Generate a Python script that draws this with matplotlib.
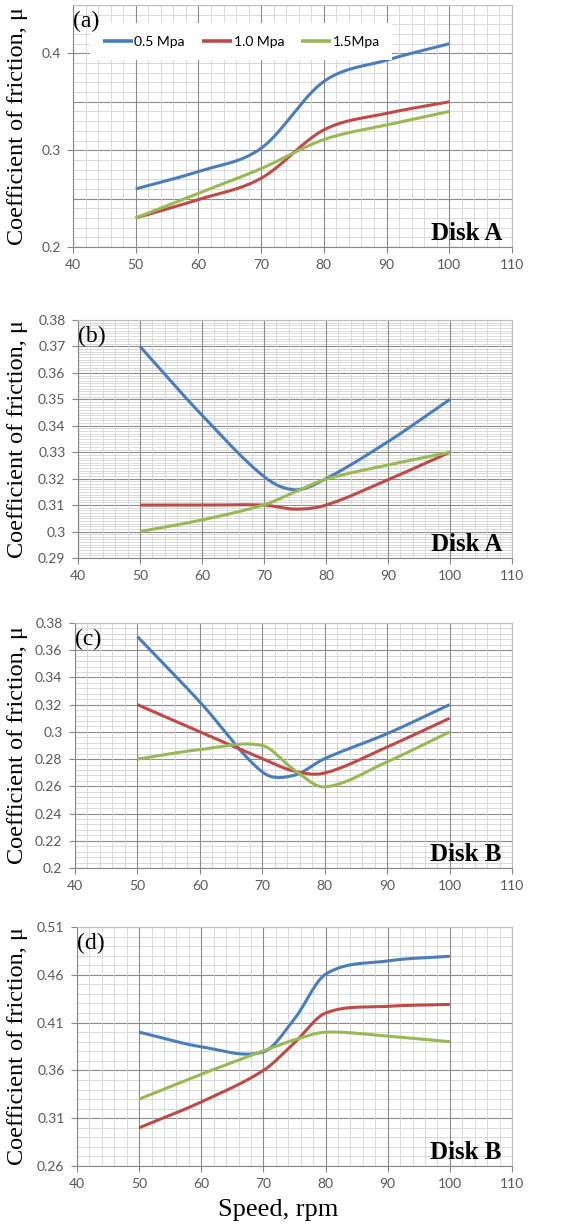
import numpy as np
import matplotlib
matplotlib.use('Agg')
import matplotlib.pyplot as plt
from matplotlib.ticker import MultipleLocator, FixedLocator

# speed (rpm) and friction coefficient
speed_a = [50, 60, 70, 80, 90, 100]
a_05 = [0.260, 0.278, 0.302, 0.371, 0.393, 0.410]
a_10 = [0.230, 0.249, 0.271, 0.321, 0.338, 0.350]
a_15 = [0.230, 0.2555, 0.281, 0.311, 0.326, 0.340]

speed_b = [50, 60, 70, 75, 80, 90, 100]
b_05 = [0.370, 0.344, 0.3208, 0.3158, 0.320, 0.334, 0.350]
b_10 = [0.310, 0.310, 0.310, 0.3085, 0.310, 0.3196, 0.330]
b_15 = [0.300, 0.3044, 0.3101, 0.315, 0.3198, 0.3252, 0.330]

speed_c = [50, 60, 70, 75, 80, 90, 100]
c_05 = [0.370, 0.322, 0.2706, 0.268, 0.2804, 0.2987, 0.320]
c_10 = [0.320, 0.300, 0.2804, 0.2713, 0.2698, 0.2889, 0.310]
c_15 = [0.280, 0.287, 0.290, 0.2725, 0.2596, 0.278, 0.300]

speed_d = [50, 60, 70, 75, 80, 90, 100]
d_05 = [0.400, 0.3847, 0.3794, 0.414, 0.4606, 0.4745, 0.4794]
d_10 = [0.300, 0.327, 0.360, 0.389, 0.420, 0.427, 0.429]
d_15 = [0.330, 0.356, 0.3805, 0.392, 0.400, 0.3958, 0.390]

labels = ['0.5 Mpa', '1.0 Mpa', '1.5Mpa']
colors = ['#4a7ebb', '#be4b48', '#98b954']

panels = [
    # tag, disk, x, series, ylim, major, minor, label step, axes box (px: left, top, bottom)
    ('(a)', 'Disk A', speed_a, [a_05, a_10, a_15], (0.2, 0.45), 0.05, 0.01, 0.1, (73, 5, 247)),
    ('(b)', 'Disk A', speed_b, [b_05, b_10, b_15], (0.29, 0.38), 0.01, 0.001, 0.01, (78, 320, 558)),
    ('(c)', 'Disk B', speed_c, [c_05, c_10, c_15], (0.2, 0.38), 0.02, 0.004, 0.02, (75, 623, 868)),
    ('(d)', 'Disk B', speed_d, [d_05, d_10, d_15], (0.26, 0.51), 0.05, 0.01, 0.05, (77, 927, 1166)),
]

W, H = 562, 1224


def smooth(x, y, n=40):
    # cubic hermite through the points, tangents from neighbours (Excel-like smoothing)
    x = np.asarray(x, float)
    y = np.asarray(y, float)
    m = np.zeros_like(y)
    m[1:-1] = (y[2:] - y[:-2]) / (x[2:] - x[:-2])
    m[0] = (y[1] - y[0]) / (x[1] - x[0])
    m[-1] = (y[-1] - y[-2]) / (x[-1] - x[-2])
    xs, ys = [], []
    for i in range(len(x) - 1):
        h = x[i + 1] - x[i]
        t = np.linspace(0, 1, n, endpoint=False)
        h00 = 2 * t**3 - 3 * t**2 + 1
        h10 = t**3 - 2 * t**2 + t
        h01 = -2 * t**3 + 3 * t**2
        h11 = t**3 - t**2
        xs.append(x[i] + t * h)
        ys.append(h00 * y[i] + h10 * h * m[i] + h01 * y[i + 1] + h11 * h * m[i + 1])
    xs.append([x[-1]])
    ys.append([y[-1]])
    return np.concatenate(xs), np.concatenate(ys)


fig = plt.figure(figsize=(W / 100, H / 100), dpi=100)

for tag, disk, xv, series, ylim, major, minor, lstep, box in panels:
    left, top, bottom = box
    ax = fig.add_axes([left / W, 1 - bottom / H, (512 - left) / W, (bottom - top) / H])
    ax.set_xlim(40, 110)
    ax.set_ylim(*ylim)

    ax.xaxis.set_major_locator(MultipleLocator(10))
    ax.xaxis.set_minor_locator(MultipleLocator(2))
    ax.grid(axis='x', which='major', color='#8c8c8c', lw=0.8)
    ax.grid(axis='x', which='minor', color='#d4d4d4', lw=0.6)

    # y grid: minor and major lines, labels on every label step
    ymin_lines = np.arange(ylim[0], ylim[1] + 1e-9, minor)
    ymaj_lines = np.arange(ylim[0], ylim[1] + 1e-9, major)
    for yy in ymin_lines:
        ax.axhline(yy, color='#d4d4d4', lw=0.6, zorder=0)
    for yy in ymaj_lines:
        ax.axhline(yy, color='#8c8c8c', lw=0.8, zorder=0.5)
    yt = np.round(np.arange(ylim[0], ylim[1] + 1e-9, lstep), 3)
    ax.yaxis.set_major_locator(FixedLocator(yt))
    ax.set_yticklabels(['%g' % v for v in yt])
    ax.set_axisbelow(True)

    for s in ax.spines.values():
        s.set_color('#bfbfbf')
    ax.spines['left'].set_color('#868686')
    ax.spines['bottom'].set_color('#868686')
    ax.tick_params(which='major', length=4, color='#868686', labelcolor='#595959',
                   labelsize=10, pad=5)
    ax.tick_params(which='minor', length=0)
    for lab in ax.get_xticklabels() + ax.get_yticklabels():
        lab.set_family('Lato')

    for yv, c, lb in zip(series, colors, labels):
        sx, sy = smooth(xv, yv)
        ax.plot(sx, sy, color=c, lw=2.2, label=lb, solid_capstyle='butt', zorder=3)

    ax.text(0.0, 1 - 6 / (bottom - top), tag, transform=ax.transAxes, ha='left', va='top',
            family='Liberation Serif', fontsize=17, zorder=10)
    ax.text(0.977, 7 / (bottom - top), disk, transform=ax.transAxes, ha='right', va='baseline',
            family='Liberation Serif', fontweight='bold', fontsize=18)

    fig.text(18 / W, 1 - (top + bottom) / 2 / H, 'Coefficient of friction, \u03bc', rotation=90,
             ha='center', va='center', family='Liberation Serif', fontsize=17.5)

    if tag == '(a)':
        leg = ax.legend(loc='upper left', bbox_to_anchor=(17 / 439, 1 - 18 / 242), ncol=3,
                        frameon=True, fancybox=False, handlelength=2.2, handletextpad=0.1,
                        columnspacing=1.2, borderpad=0.9, borderaxespad=0,
                        prop={'family': 'Lato', 'size': 10})
        leg.get_frame().set_facecolor('white')
        leg.get_frame().set_edgecolor('none')
        leg.get_frame().set_alpha(1)
        leg.set_zorder(5)
        for ln in leg.get_lines():
            ln.set_linewidth(2.6)

fig.text(278 / W, 1 - 1210 / H, 'Speed, rpm', ha='center', va='center',
         family='Liberation Serif', fontsize=19)

fig.savefig('out.png', dpi=100)
